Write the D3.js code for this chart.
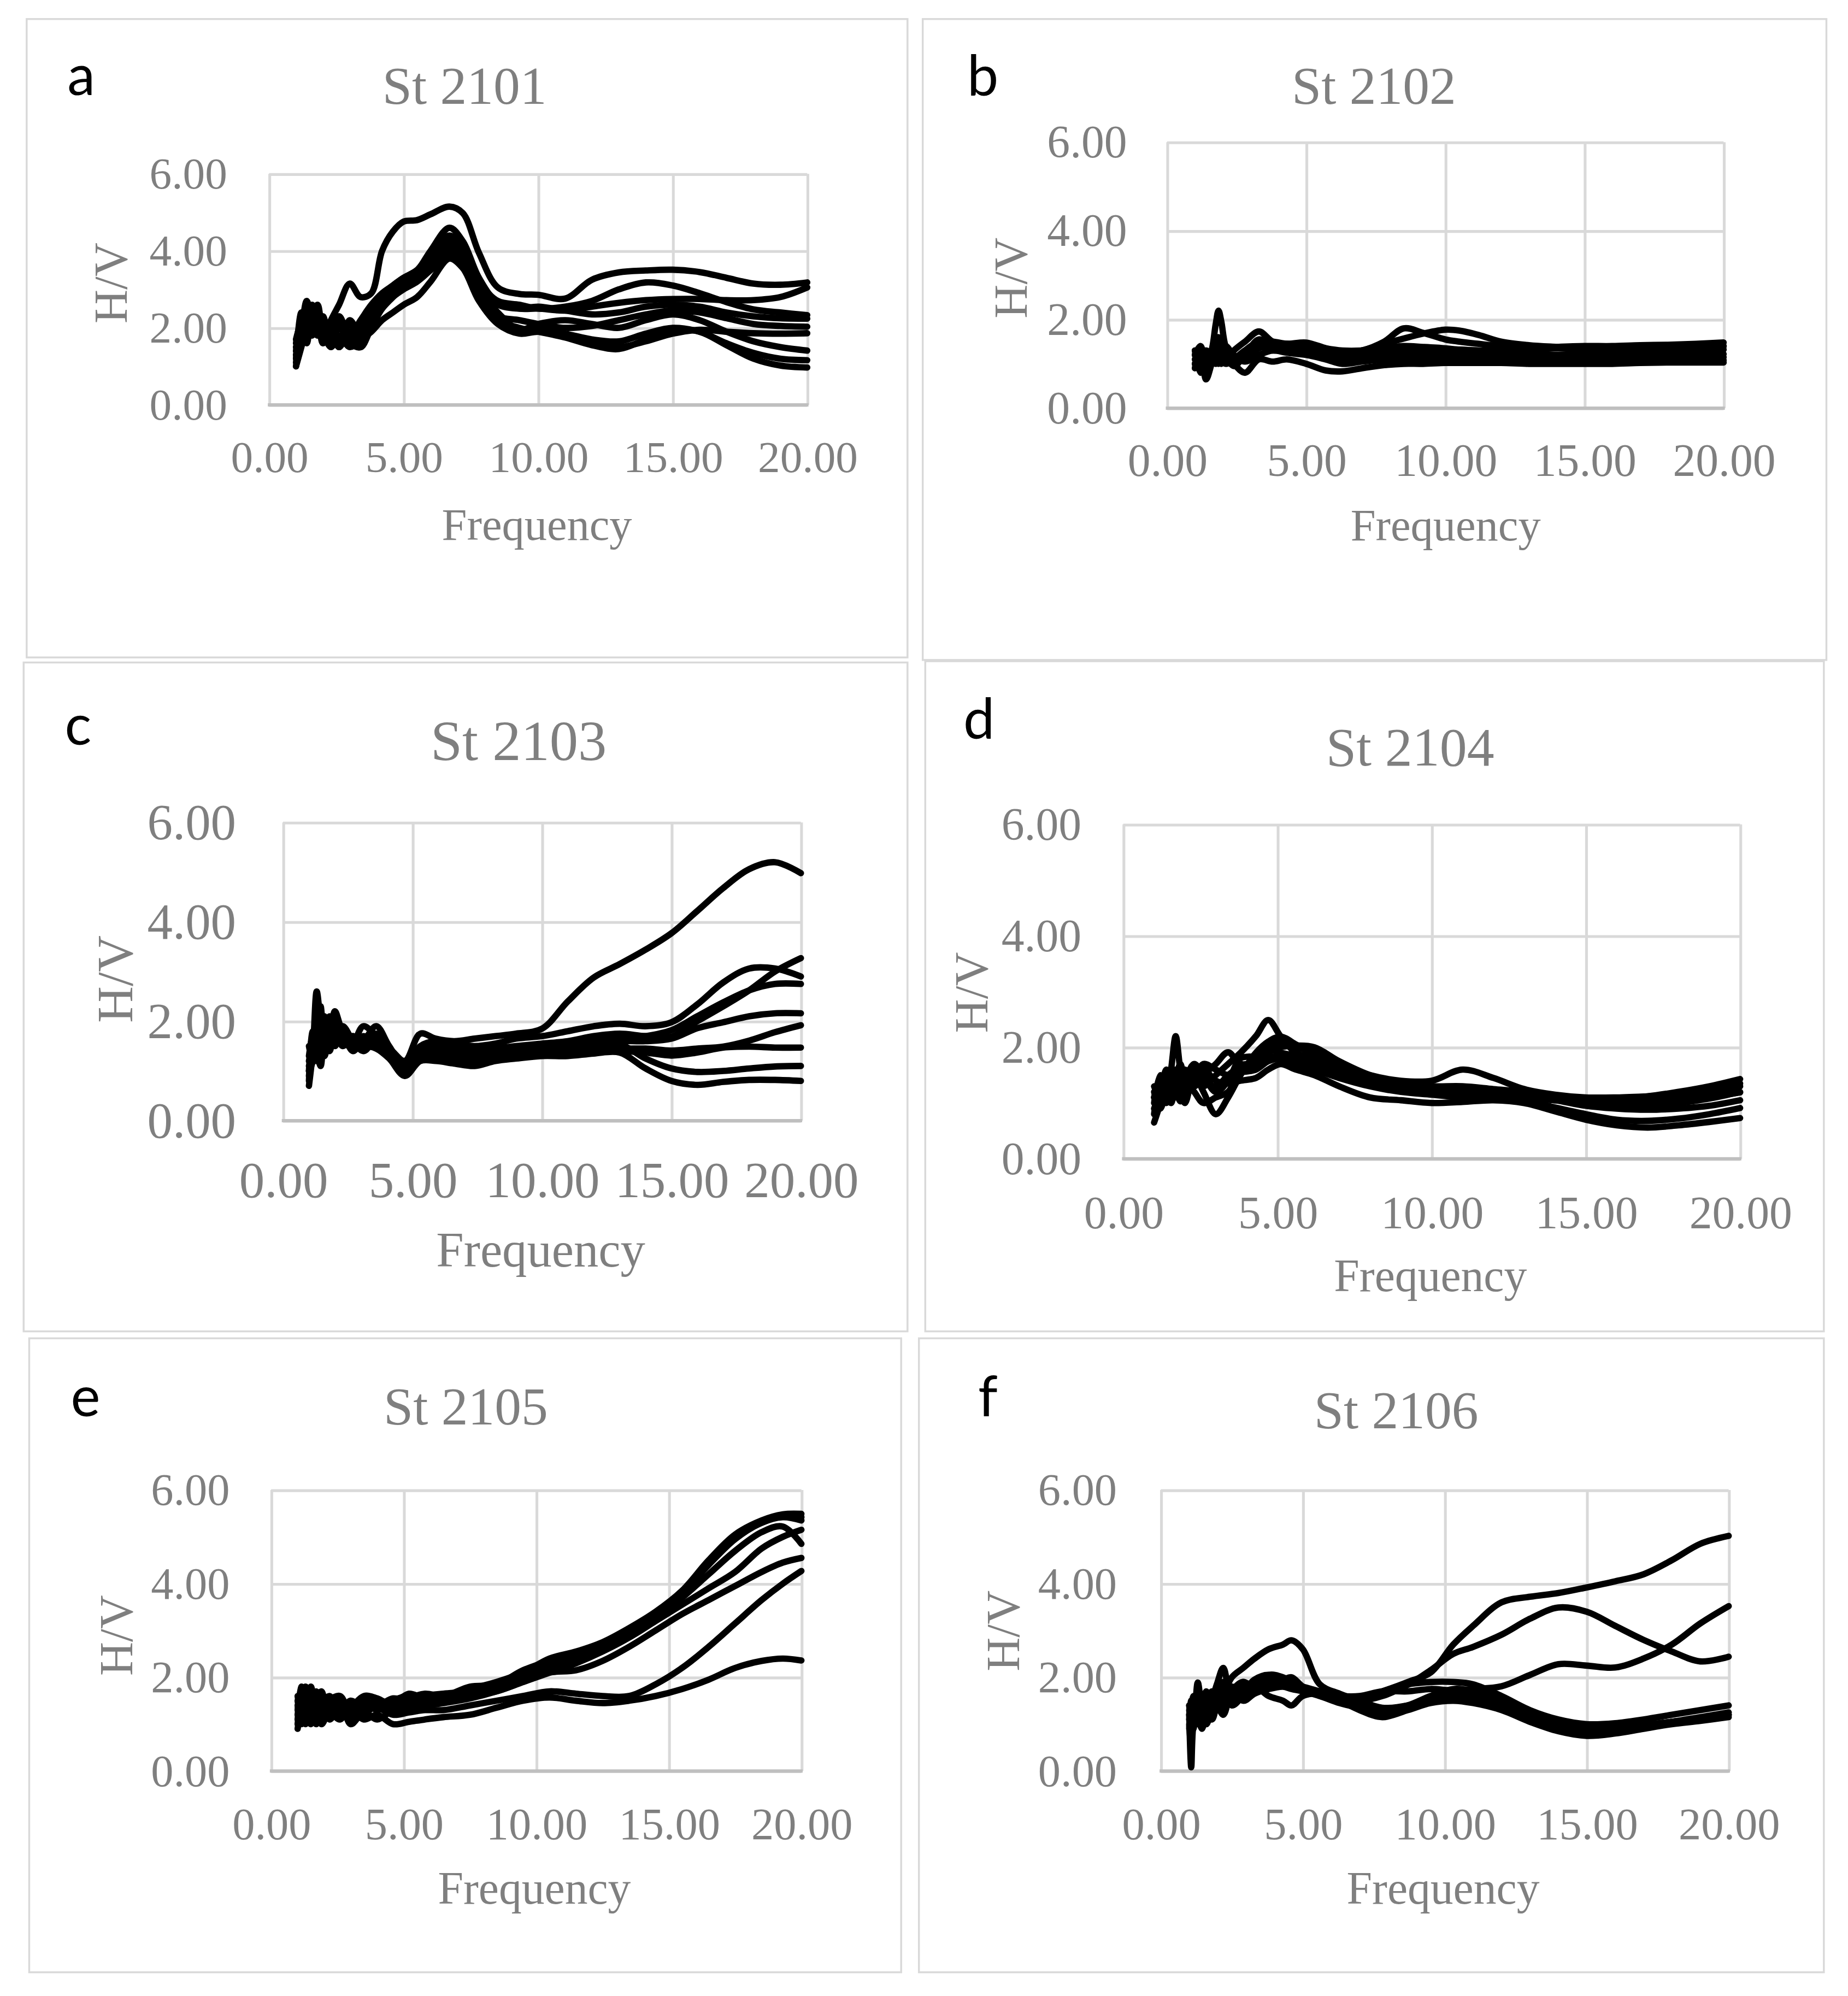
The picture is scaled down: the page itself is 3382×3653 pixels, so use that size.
<!DOCTYPE html>
<html>
<head>
<meta charset="utf-8">
<script src="https://cdn.jsdelivr.net/npm/d3@7"></script>
<style>
  body { margin: 0; background: #fff; }
</style>
</head>
<body>
<div id="chart"></div>
<script>
// tick values shared by all six panels
const xTicks = [0, 5, 10, 15, 20];
const yTicks = [0, 2, 4, 6];

// ---- St 2101 (a)
const freqA = [1.0, 1.2, 1.4, 1.6, 1.8, 2.0, 2.3, 2.6, 3.0, 3.4, 3.8, 4.2, 4.6, 5.0, 5.5, 6.0, 6.7, 7.2, 7.8, 8.5, 9.3, 10, 11, 12, 13, 14, 15, 16, 17, 18, 19, 20];
const st2101 = [
  [1.6, 2.2, 1.8, 2.4, 2.0, 1.7, 2.2, 2.6, 3.15, 2.8, 2.9, 4.0, 4.5, 4.76, 4.8, 4.95, 5.15, 4.98, 3.95, 3.05, 2.88, 2.86, 2.76, 3.25, 3.44, 3.49, 3.51, 3.45, 3.3, 3.15, 3.12, 3.18],
  [1.2, 2.4, 1.9, 2.6, 2.2, 1.8, 1.6, 2.0, 1.7, 1.6, 2.3, 2.8, 3.1, 3.3, 3.5, 4.0, 4.6, 4.25, 3.3, 2.65, 2.5, 2.5, 2.45, 2.55, 2.65, 2.72, 2.75, 2.75, 2.72, 2.72, 2.8, 3.05],
  [1.0, 1.8, 2.5, 2.0, 2.4, 1.6, 1.9, 1.5, 2.1, 1.7, 2.2, 2.6, 2.9, 3.2, 3.4, 3.8, 4.4, 4.05, 3.2, 2.7, 2.6, 2.5, 2.55, 2.7, 3.0, 3.18, 3.1, 2.9, 2.67, 2.48, 2.4, 2.33],
  [1.5, 2.0, 2.7, 2.2, 1.9, 2.3, 1.6, 2.1, 1.6, 2.0, 2.4, 2.7, 3.0, 3.2, 3.3, 3.7, 4.2, 3.85, 3.0, 2.6, 2.5, 2.55, 2.45, 2.35, 2.4, 2.55, 2.6, 2.55, 2.4, 2.3, 2.25, 2.24],
  [1.3, 1.7, 2.2, 2.5, 2.0, 1.8, 2.1, 1.5, 1.9, 1.5, 2.0, 2.5, 2.8, 3.0, 3.2, 3.5, 4.0, 3.65, 2.8, 2.3, 2.2, 2.1, 2.0, 2.05, 2.2, 2.35, 2.45, 2.4, 2.25, 2.1, 2.05, 2.03],
  [1.0, 1.5, 2.0, 1.8, 2.3, 1.9, 1.5, 1.8, 1.5, 1.7, 1.9, 2.2, 2.4, 2.6, 2.8, 3.2, 3.8, 3.55, 2.7, 2.1, 1.85, 1.9, 1.8, 1.6, 1.5, 1.65, 1.85, 1.95, 1.9, 1.86, 1.85, 1.86],
  [1.4, 2.2, 1.7, 2.3, 2.6, 2.0, 1.8, 2.3, 1.8, 2.2, 2.6, 2.9, 3.1, 3.3, 3.5, 3.9, 4.3, 3.95, 3.0, 2.4, 1.95, 2.1, 2.2, 2.1, 2.0, 2.2, 2.35, 2.2, 1.9, 1.65, 1.5, 1.41],
  [1.1, 1.9, 2.4, 2.1, 1.8, 2.2, 1.7, 2.0, 1.6, 1.5, 2.1, 2.5, 2.8, 3.1, 3.3, 3.6, 4.1, 3.75, 2.9, 2.2, 1.9, 1.95, 1.85, 1.7, 1.65, 1.85, 2.0, 1.9, 1.6, 1.35, 1.2, 1.16],
  [1.7, 2.1, 1.6, 2.4, 2.1, 1.7, 2.0, 1.6, 2.2, 1.8, 2.3, 2.6, 2.9, 3.05, 3.25, 3.5, 3.9, 3.6, 2.75, 2.2, 2.0, 1.9, 1.75, 1.55, 1.45, 1.7, 1.95, 1.9, 1.55, 1.2, 1.02, 0.97]
];

// ---- St 2102 (b)
const freqB = [1.0, 1.2, 1.4, 1.6, 1.75, 1.85, 1.95, 2.1, 2.4, 2.8, 3.3, 3.8, 4.3, 5.0, 5.7, 6.3, 7.0, 7.8, 8.5, 9.2, 10, 10.5, 11.2, 12, 13, 14, 15, 16, 17, 18, 19, 20];
const st2102 = [
  [1.1, 1.3, 1.0, 1.3, 1.9, 2.2, 1.95, 1.4, 1.0, 1.25, 1.45, 1.4, 1.35, 1.4, 1.3, 1.25, 1.3, 1.35, 1.4, 1.38, 1.35, 1.32, 1.3, 1.3, 1.35, 1.38, 1.4, 1.4, 1.42, 1.43, 1.45, 1.48],
  [1.2, 1.0, 1.3, 1.1, 1.2, 1.4, 1.3, 1.1, 1.3, 1.5, 1.73, 1.5, 1.45, 1.48, 1.35, 1.25, 1.3, 1.5, 1.8, 1.7, 1.55, 1.5, 1.45, 1.4, 1.38, 1.35, 1.33, 1.35, 1.38, 1.4, 1.4, 1.4],
  [0.9, 1.3, 1.2, 1.0, 1.3, 1.2, 1.4, 1.2, 0.95, 1.2, 1.55, 1.4, 1.45, 1.4, 1.3, 1.22, 1.3, 1.45, 1.57, 1.68, 1.77, 1.75, 1.65, 1.5, 1.42, 1.38, 1.35, 1.32, 1.32, 1.33, 1.33, 1.32],
  [1.3, 0.8, 1.1, 1.2, 1.4, 1.3, 1.2, 1.0, 1.1, 1.3, 1.4, 1.3, 1.35, 1.3, 1.2, 1.15, 1.2, 1.25, 1.3, 1.3, 1.28, 1.26, 1.25, 1.25, 1.22, 1.2, 1.22, 1.25, 1.25, 1.23, 1.22, 1.22],
  [1.0, 1.2, 0.65, 1.0, 1.3, 1.1, 1.0, 1.2, 1.0, 0.8, 1.1, 1.05, 1.1, 1.0, 0.85, 0.83, 0.9, 0.97, 1.0, 1.0, 1.02, 1.02, 1.02, 1.02, 1.0, 1.0, 1.0, 1.0, 1.02, 1.03, 1.03, 1.03],
  [1.2, 1.4, 1.1, 1.3, 1.0, 1.2, 1.5, 1.3, 1.0, 1.15, 1.35, 1.45, 1.4, 1.35, 1.2, 1.05, 1.1, 1.15, 1.17, 1.18, 1.18, 1.17, 1.16, 1.15, 1.15, 1.15, 1.18, 1.17, 1.15, 1.15, 1.15, 1.15],
  [1.0, 1.1, 1.3, 1.2, 1.1, 1.0, 1.2, 1.4, 1.2, 1.05, 1.2, 1.3, 1.25, 1.2, 1.1, 1.0, 1.05, 1.1, 1.12, 1.12, 1.1, 1.1, 1.1, 1.1, 1.08, 1.08, 1.1, 1.1, 1.1, 1.1, 1.08, 1.08],
  [1.3, 1.2, 0.9, 1.2, 1.5, 1.6, 1.4, 1.2, 1.05, 1.3, 1.5, 1.5, 1.45, 1.45, 1.35, 1.3, 1.3, 1.35, 1.38, 1.35, 1.33, 1.32, 1.3, 1.3, 1.32, 1.35, 1.38, 1.36, 1.35, 1.36, 1.38, 1.4]
];

// ---- St 2103 (c)
const freqC = [1.0, 1.15, 1.3, 1.45, 1.6, 1.8, 2.0, 2.3, 2.7, 3.1, 3.6, 4.1, 4.7, 5.3, 5.9, 6.6, 7.4, 8.2, 9, 10, 11, 12, 13, 14, 15, 16, 17, 18, 19, 20];
const st2103 = [
  [0.7, 1.4, 2.6, 2.0, 1.6, 2.0, 1.8, 1.6, 1.7, 1.5, 1.55, 1.45, 1.2, 1.75, 1.65, 1.6, 1.65, 1.7, 1.75, 1.85, 2.4, 2.88, 3.15, 3.44, 3.77, 4.22, 4.68, 5.06, 5.2, 4.98],
  [1.0, 1.8, 1.5, 2.2, 1.9, 1.7, 2.2, 1.8, 1.6, 1.9, 1.7, 1.4, 1.0, 1.5, 1.6, 1.55, 1.5, 1.55, 1.65, 1.7, 1.8, 1.9, 1.95, 1.9, 1.98, 2.34, 2.78, 3.06, 3.06, 2.9],
  [1.2, 1.6, 2.0, 1.7, 1.3, 1.8, 2.0, 1.7, 1.5, 1.6, 1.9, 1.5, 1.1, 1.45, 1.5, 1.45, 1.4, 1.45, 1.5, 1.55, 1.6, 1.7, 1.75, 1.7, 1.69, 2.0, 2.3, 2.62, 3.0, 3.27],
  [1.5, 1.2, 1.7, 1.9, 1.5, 2.1, 1.7, 1.9, 1.6, 1.4, 1.6, 1.4, 0.95, 1.35, 1.4, 1.35, 1.3, 1.4, 1.45, 1.5, 1.55, 1.6, 1.65, 1.7, 1.82, 2.1, 2.38, 2.62, 2.75, 2.75],
  [0.9, 1.5, 1.8, 1.4, 1.9, 1.6, 1.8, 1.5, 1.7, 1.5, 1.75, 1.3, 1.1, 1.4, 1.35, 1.3, 1.25, 1.35, 1.4, 1.45, 1.5, 1.55, 1.6, 1.6, 1.65, 1.86, 1.98, 2.1, 2.16, 2.16],
  [1.3, 1.7, 1.2, 2.3, 1.6, 1.4, 1.9, 1.6, 1.5, 1.7, 1.5, 1.3, 1.2, 1.3, 1.3, 1.25, 1.2, 1.3, 1.35, 1.4, 1.45, 1.5, 1.45, 1.45, 1.41, 1.45, 1.49, 1.61, 1.78, 1.92],
  [1.1, 1.3, 1.9, 1.5, 2.1, 1.8, 1.6, 1.7, 1.4, 1.6, 1.5, 1.35, 1.15, 1.3, 1.25, 1.2, 1.15, 1.25, 1.3, 1.35, 1.4, 1.42, 1.4, 1.37, 1.31, 1.37, 1.47, 1.49, 1.47, 1.47],
  [0.8, 1.6, 1.4, 1.1, 1.7, 1.9, 1.5, 1.8, 1.5, 1.45, 1.55, 1.35, 1.05, 1.3, 1.3, 1.25, 1.2, 1.25, 1.3, 1.35, 1.4, 1.45, 1.53, 1.25, 1.05, 0.98, 1.0, 1.05, 1.09, 1.1],
  [1.0, 1.2, 2.2, 1.3, 1.8, 1.5, 1.7, 1.6, 1.45, 1.5, 1.45, 1.25, 0.9, 1.2, 1.2, 1.15, 1.1, 1.2, 1.25, 1.3, 1.3, 1.35, 1.37, 1.05, 0.8, 0.72, 0.78, 0.82, 0.82, 0.8]
];

// ---- St 2104 (d)
const freqD = [1.0, 1.2, 1.4, 1.55, 1.7, 1.85, 2.0, 2.3, 2.6, 3.0, 3.4, 3.8, 4.3, 4.7, 5.1, 5.6, 6.2, 7.0, 8.0, 9.0, 10, 11, 12, 13, 14, 15, 16, 17, 18, 19, 20];
const st2104 = [
  [0.8, 1.3, 1.1, 1.6, 2.2, 1.6, 1.2, 1.4, 1.3, 1.5, 1.7, 1.9, 2.2, 2.49, 2.2, 1.9, 1.8, 1.65, 1.45, 1.35, 1.3, 1.25, 1.2, 1.15, 1.1, 1.05, 1.08, 1.12, 1.2, 1.3, 1.43],
  [1.1, 1.4, 1.0, 1.3, 1.5, 1.2, 1.0, 1.5, 1.2, 0.8, 1.1, 1.5, 1.9, 2.1, 2.19, 2.05, 1.85, 1.7, 1.5, 1.4, 1.4, 1.6, 1.45, 1.25, 1.15, 1.1, 1.1, 1.12, 1.15, 1.25, 1.35],
  [0.65, 1.0, 1.5, 1.2, 1.1, 1.4, 1.6, 1.3, 1.5, 1.7, 1.91, 1.7, 1.75, 1.9, 2.0, 2.03, 2.0, 1.75, 1.5, 1.35, 1.3, 1.3, 1.25, 1.2, 1.1, 1.0, 0.95, 0.97, 1.0, 1.1, 1.19],
  [1.2, 0.9, 1.3, 1.6, 1.3, 1.03, 1.3, 1.6, 1.4, 1.3, 1.5, 1.65, 1.7, 1.8, 1.85, 1.8, 1.7, 1.5, 1.35, 1.28, 1.25, 1.25, 1.2, 1.12, 1.05, 0.95, 0.9, 0.88, 0.9, 0.95, 1.05],
  [1.0, 1.5, 1.2, 1.0, 1.4, 1.7, 1.4, 1.2, 1.0, 1.1, 1.2, 1.6, 1.8, 1.95, 1.9, 1.85, 1.75, 1.55, 1.4, 1.3, 1.25, 1.2, 1.15, 1.05, 0.92, 0.8, 0.7, 0.68, 0.72, 0.8, 0.91],
  [0.9, 1.2, 1.6, 1.4, 1.2, 1.3, 1.5, 1.3, 1.6, 1.4, 1.35, 1.4, 1.45, 1.6, 1.7, 1.6, 1.5, 1.3, 1.1, 1.05, 1.0, 1.02, 1.05, 1.0, 0.85, 0.7, 0.6, 0.56, 0.6, 0.66, 0.73],
  [1.1, 1.3, 1.4, 1.1, 1.6, 1.5, 1.2, 1.4, 1.7, 1.6, 1.5, 1.55, 1.6, 1.75, 1.8, 1.7, 1.6, 1.45, 1.3, 1.2, 1.15, 1.1, 1.1, 1.08, 1.05, 1.0, 0.95, 0.95, 1.0, 1.08, 1.2],
  [1.3, 1.1, 1.2, 1.5, 1.4, 1.2, 1.4, 1.7, 1.5, 1.2, 1.4, 1.8, 1.85, 2.0, 2.1, 2.0, 1.9, 1.6, 1.4, 1.3, 1.2, 1.15, 1.15, 1.1, 1.05, 1.02, 1.0, 1.02, 1.05, 1.15, 1.3]
];

// ---- St 2105 (e)
const freqE = [1.0, 1.15, 1.3, 1.5, 1.7, 1.9, 2.2, 2.6, 3.0, 3.5, 4.0, 4.6, 5.2, 5.8, 6.5, 7.5, 8.5, 9.5, 10.5, 11.5, 12.5, 13.5, 14.5, 15.5, 16.5, 17.5, 18.5, 19.3, 20];
const st2105 = [
  [1.2, 1.7, 1.0, 1.5, 1.3, 1.1, 1.4, 1.2, 1.3, 1.1, 1.2, 1.0, 1.05, 1.1, 1.15, 1.2, 1.35, 1.5, 1.57, 1.5, 1.45, 1.5, 1.6, 1.75, 1.95, 2.2, 2.35, 2.4, 2.36],
  [0.9, 1.4, 1.8, 1.2, 1.6, 1.3, 1.2, 1.45, 1.1, 1.3, 1.35, 1.2, 1.25, 1.3, 1.3, 1.4, 1.5, 1.6, 1.7, 1.65, 1.6, 1.6, 1.85, 2.2, 2.65, 3.15, 3.65, 4.0, 4.27],
  [1.5, 1.1, 1.4, 1.7, 1.0, 1.5, 1.3, 1.1, 1.4, 1.2, 1.45, 1.3, 1.4, 1.5, 1.5, 1.6, 1.7, 1.9, 2.1, 2.15, 2.35, 2.65, 3.0, 3.35, 3.65, 3.95, 4.25, 4.45, 4.55],
  [1.3, 1.8, 1.2, 1.0, 1.5, 1.7, 1.1, 1.35, 1.2, 1.45, 1.3, 1.5, 1.6, 1.45, 1.55, 1.7, 1.75, 2.0, 2.2, 2.35, 2.6, 2.85, 3.2, 3.55, 3.9, 4.25, 4.75, 5.0, 5.15],
  [1.1, 1.6, 1.4, 1.8, 1.2, 1.4, 1.6, 1.3, 1.5, 1.35, 1.5, 1.45, 1.65, 1.55, 1.6, 1.75, 1.9, 2.1, 2.4, 2.55, 2.75, 3.05, 3.4, 3.85, 4.5, 5.05, 5.35, 5.48, 5.49],
  [1.4, 1.0, 1.6, 1.3, 1.7, 1.2, 1.5, 1.6, 1.25, 1.5, 1.4, 1.55, 1.5, 1.6, 1.65, 1.7, 1.8, 2.05, 2.3, 2.45, 2.7, 2.95, 3.3, 3.8, 4.4, 4.95, 5.3, 5.42, 5.35],
  [1.0, 1.5, 1.2, 1.6, 1.4, 1.0, 1.3, 1.5, 1.0, 1.25, 1.1, 1.3, 1.35, 1.4, 1.45, 1.55, 1.7, 1.9, 2.1, 2.3, 2.55, 2.85, 3.25, 3.7, 4.2, 4.7, 5.1, 5.22, 4.85],
  [1.6, 1.2, 1.5, 1.1, 1.3, 1.6, 1.4, 1.2, 1.35, 1.6, 1.55, 1.4, 1.55, 1.65, 1.6, 1.8, 1.85, 2.15, 2.35, 2.5, 2.7, 3.0, 3.35, 3.8, 4.45, 5.0, 5.3, 5.45, 5.42]
];

// ---- St 2106 (f)
const freqF = [1.0, 1.07, 1.15, 1.3, 1.45, 1.6, 1.8, 2.0, 2.2, 2.5, 2.9, 3.3, 3.8, 4.3, 4.6, 5.0, 5.6, 6.3, 7.0, 7.8, 8.7, 9.5, 10.3, 11, 12, 13, 14, 15, 16, 17, 18, 19, 20];
const st2106 = [
  [1.3, 1.0, 1.5, 1.2, 1.0, 1.4, 1.7, 1.5, 1.8, 1.6, 1.8, 1.9, 2.0, 1.9, 1.85, 1.8, 1.7, 1.6, 1.55, 1.7, 1.9, 2.1, 2.7, 3.1, 3.6, 3.72, 3.8, 3.92, 4.05, 4.2, 4.5, 4.85, 5.02],
  [1.0, 0.5, 1.2, 1.6, 1.3, 1.1, 1.4, 1.8, 1.5, 1.7, 1.9, 1.8, 2.05, 2.0, 1.9, 1.75, 1.65, 1.55, 1.5, 1.6, 1.84, 2.15, 2.5, 2.65, 2.91, 3.25, 3.49, 3.4, 3.1, 2.8, 2.55, 2.34, 2.44],
  [1.4, 1.2, 0.9, 1.89, 1.3, 1.0, 1.5, 1.9, 2.2, 1.6, 1.7, 1.75, 1.8, 1.85, 1.8, 1.7, 1.65, 1.6, 1.6, 1.7, 1.7, 1.75, 1.72, 1.75, 1.81, 2.05, 2.28, 2.25, 2.21, 2.4, 2.7, 3.15, 3.52],
  [1.2, 0.08, 1.0, 1.3, 1.0, 1.2, 1.5, 1.3, 1.6, 2.0, 2.2, 2.4, 2.6, 2.7, 2.79, 2.6, 1.85, 1.65, 1.5, 1.35, 1.4, 1.55, 1.6, 1.55, 1.35, 1.15, 0.98, 0.9, 0.92, 0.98, 1.05, 1.12, 1.2],
  [1.4, 1.1, 1.3, 1.0, 1.4, 1.7, 1.2, 1.6, 1.9, 1.5, 1.7, 1.95, 2.05, 1.9, 1.8, 1.75, 1.7, 1.6, 1.55, 1.7, 1.85, 1.9, 1.9, 1.85, 1.6, 1.3, 1.1, 1.0, 1.02, 1.1, 1.2, 1.3, 1.4],
  [1.1, 1.3, 1.6, 1.2, 0.9, 1.3, 1.6, 1.4, 1.2, 1.7, 1.9, 1.7, 1.9, 1.95, 2.0, 1.8, 1.6, 1.5, 1.4, 1.3, 1.4, 1.6, 1.75, 1.7, 1.5, 1.2, 0.95, 0.85, 0.9, 0.98, 1.05, 1.15, 1.25],
  [0.9, 1.4, 1.1, 1.5, 1.2, 1.0, 1.3, 1.5, 1.7, 1.4, 1.6, 1.8, 1.6, 1.5, 1.4, 1.6, 1.65, 1.5, 1.3, 1.15, 1.3, 1.45, 1.5, 1.45, 1.3, 1.05, 0.85, 0.75, 0.8, 0.9, 1.0, 1.07, 1.15],
  [1.2, 1.5, 1.0, 1.4, 1.6, 1.2, 1.1, 1.4, 1.3, 1.8, 1.5, 1.65, 1.75, 1.8, 1.75, 1.7, 1.6, 1.45, 1.35, 1.25, 1.35, 1.5, 1.65, 1.6, 1.45, 1.15, 0.9, 0.8, 0.85, 0.95, 1.05, 1.12, 1.2]
];

// ---- layout of the six panels (drawing units, viewBox 1456 wide)
const panels = [
  {tag: "a", title: "St 2101", freq: freqA, series: st2101,
   box: [21, 15, 715, 518], px: [212, 636], py: [137, 319], tick: 35, padX: 28, padY: 33,
   ttl: [366, 82, 42], tg: [53, 75], xl: [423, 425.5, 35.5], yl: [100, 223, 37]},
  {tag: "b", title: "St 2102", freq: freqB, series: st2102,
   box: [727, 15, 1439, 520], px: [919.5, 1358], py: [112, 321.6], tick: 36, padX: 28, padY: 31.5,
   ttl: [1082.5, 82, 42], tg: [762, 75.4], xl: [1139, 426, 35.5], yl: [809, 219, 37]},
  {tag: "c", title: "St 2103", freq: freqC, series: st2103,
   box: [18.6, 522, 715, 1049], px: [223, 631], py: [648, 883], tick: 40, padX: 32, padY: 37,
   ttl: [408.6, 599, 45], tg: [51, 587], xl: [426, 998, 39], yl: [104, 771.5, 40]},
  {tag: "d", title: "St 2104", freq: freqD, series: st2104,
   box: [729, 521, 1437, 1049], px: [885, 1371], py: [649.6, 913], tick: 36, padX: 29.4, padY: 33,
   ttl: [1111, 603, 43], tg: [759, 582], xl: [1127, 1017.5, 36], yl: [778, 782, 37]},
  {tag: "e", title: "St 2105", freq: freqE, series: st2105,
   box: [23, 1054.5, 710, 1554], px: [213.6, 631.4], py: [1174, 1395.4], tick: 35.5, padX: 28.4, padY: 32.6,
   ttl: [367, 1122.5, 42], tg: [55.7, 1116], xl: [421, 1500, 36], yl: [104, 1288.6, 37]},
  {tag: "f", title: "St 2106", freq: freqF, series: st2106,
   box: [724, 1054.5, 1437, 1554], px: [914.6, 1362], py: [1174, 1395.4], tick: 35.5, padX: 28.4, padY: 34.6,
   ttl: [1100, 1125.4, 42], tg: [770.6, 1116], xl: [1137, 1500, 36], yl: [803, 1285, 37]}
];

const serif = "'Liberation Serif', 'Times New Roman', serif";
const grey = "#7f7f7f";
const fmt = d3.format(".2f");

const svg = d3.select("#chart").append("svg")
    .attr("width", 3382)
    .attr("height", 3653)
    .attr("viewBox", "0 0 1456 1572.7");

svg.append("rect").attr("width", 1456).attr("height", 1572.7).attr("fill", "#fff");

panels.forEach(p => {
  const g = svg.append("g");

  // panel frame
  g.append("rect")
      .attr("x", p.box[0]).attr("y", p.box[1])
      .attr("width", p.box[2] - p.box[0]).attr("height", p.box[3] - p.box[1])
      .attr("fill", "none").attr("stroke", "#d9d9d9").attr("stroke-width", 1.5);

  const x = d3.scaleLinear().domain([0, 20]).range(p.px);
  const y = d3.scaleLinear().domain([0, 6]).range([p.py[1], p.py[0]]);

  // x axis + vertical gridlines
  g.append("g")
      .attr("transform", `translate(0,${p.py[1]})`)
      .call(d3.axisBottom(x).tickValues(xTicks).tickFormat(fmt)
              .tickSize(-(p.py[1] - p.py[0])).tickPadding(p.padX))
      .call(a => {
        a.attr("font-family", serif).attr("font-size", p.tick);
        a.select(".domain").remove();
        a.selectAll("line").attr("stroke", "#d9d9d9").attr("stroke-width", 2.2);
        a.selectAll("text").attr("fill", grey);
      });

  // y axis + horizontal gridlines
  g.append("g")
      .attr("transform", `translate(${p.px[0]},0)`)
      .call(d3.axisLeft(y).tickValues(yTicks).tickFormat(fmt)
              .tickSize(-(p.px[1] - p.px[0])).tickPadding(p.padY))
      .call(a => {
        a.attr("font-family", serif).attr("font-size", p.tick);
        a.select(".domain").remove();
        a.selectAll("line").attr("stroke", "#d9d9d9").attr("stroke-width", 2.2);
        a.selectAll("text").attr("fill", grey);
      });

  // horizontal axis line
  g.append("line")
      .attr("x1", p.px[0] - 1).attr("x2", p.px[1] + 1)
      .attr("y1", y(0)).attr("y2", y(0))
      .attr("stroke", "#bfbfbf").attr("stroke-width", 2.6);

  // H/V curves
  const line = d3.line()
      .x((d, i) => x(p.freq[i]))
      .y(d => y(d))
      .curve(d3.curveCatmullRom.alpha(0.5));

  g.append("g").selectAll("path")
      .data(p.series)
      .join("path")
      .attr("d", line)
      .attr("fill", "none")
      .attr("stroke", "#000")
      .attr("stroke-width", 5)
      .attr("stroke-linejoin", "round")
      .attr("stroke-linecap", "round");

  // texts
  g.append("text")
      .attr("x", p.ttl[0]).attr("y", p.ttl[1])
      .attr("text-anchor", "middle")
      .style("font-family", serif).style("font-size", p.ttl[2] + "px")
      .attr("fill", grey)
      .text(p.title);

  g.append("text")
      .attr("x", p.tg[0]).attr("y", p.tg[1])
      .style("font-family", "Lato, 'Open Sans', sans-serif").style("font-size", "44px")
      .attr("fill", "#000")
      .text(p.tag);

  g.append("text")
      .attr("x", p.xl[0]).attr("y", p.xl[1])
      .attr("text-anchor", "middle")
      .style("font-family", serif).style("font-size", p.xl[2] + "px")
      .attr("fill", grey)
      .text("Frequency");

  g.append("text")
      .attr("transform", `translate(${p.yl[0]},${p.yl[1]}) rotate(-90)`)
      .attr("text-anchor", "middle")
      .style("font-family", serif).style("font-size", p.yl[2] + "px")
      .attr("fill", grey)
      .text("H/V");
});
</script>
</body>
</html>
